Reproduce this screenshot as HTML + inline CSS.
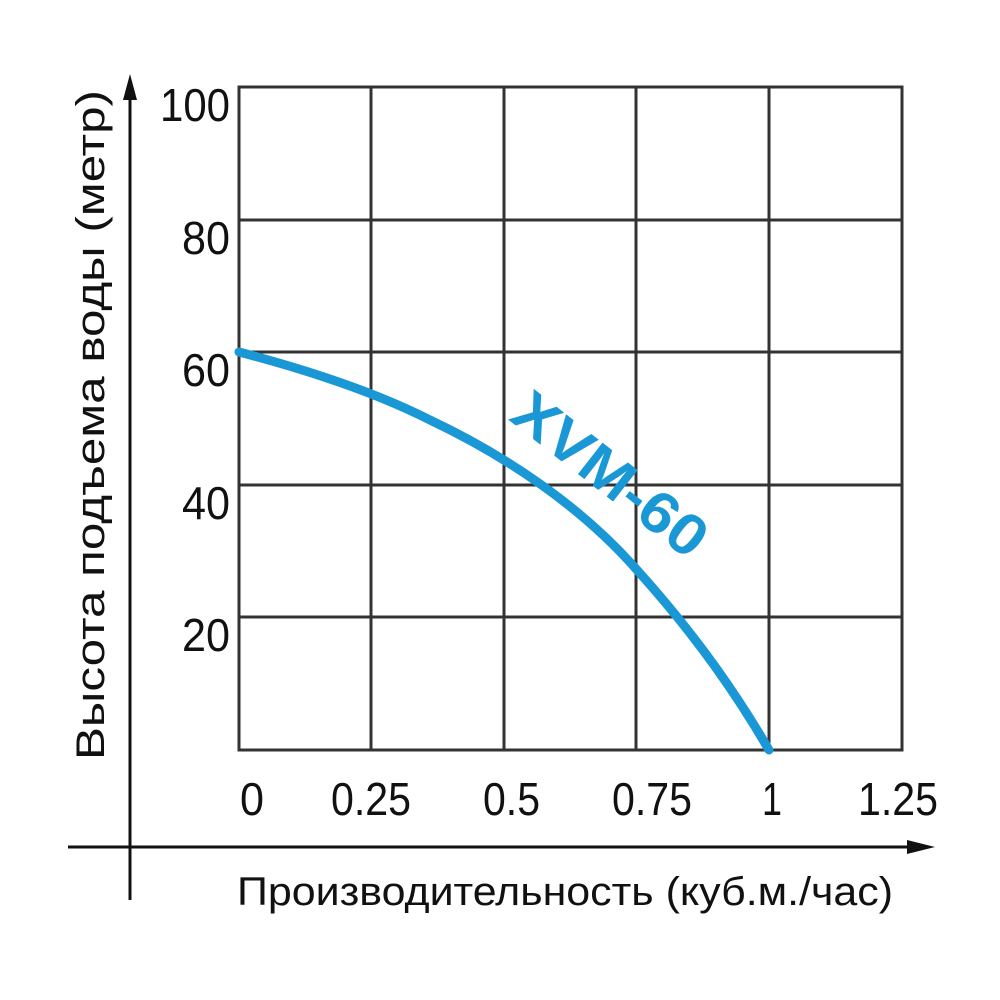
<!DOCTYPE html>
<html><head><meta charset="utf-8"><style>html,body{margin:0;padding:0;background:#fff}svg{display:block}</style></head>
<body>
<svg width="1000" height="1000" viewBox="0 0 1000 1000" xmlns="http://www.w3.org/2000/svg">
<g stroke="#333" stroke-width="3" fill="none">
<rect x="239" y="87" width="663" height="663"/>
<line x1="371" y1="87" x2="371" y2="750"/><line x1="504" y1="87" x2="504" y2="750"/>
<line x1="636" y1="87" x2="636" y2="750"/><line x1="769" y1="87" x2="769" y2="750"/>
<line x1="239" y1="220" x2="902" y2="220"/><line x1="239" y1="352" x2="902" y2="352"/>
<line x1="239" y1="485" x2="902" y2="485"/><line x1="239" y1="617" x2="902" y2="617"/>
</g>
<g stroke="#111" stroke-width="3"><line x1="130" y1="95" x2="130" y2="900"/><line x1="68" y1="847" x2="915" y2="847"/></g>
<polygon points="130,74 123,100 137,100" fill="#111"/>
<polygon points="935,847 907,840 907,854" fill="#111"/>
<path d="M239,352 C300,368 371,390 430,420 C504,455 580,505 637,570 C700,640 740,700 769,750" stroke="#1a98d5" stroke-width="9" fill="none" stroke-linecap="round"/>
<text x="610" y="494" transform="rotate(38 610 475)" text-anchor="middle" font-family="Liberation Sans, sans-serif" font-weight="bold" font-size="58" textLength="230" lengthAdjust="spacingAndGlyphs" fill="#1a98d5">XVM-60</text>
<g font-family="Liberation Sans, sans-serif" font-size="46" fill="#111">
<text x="160" y="121" textLength="70" lengthAdjust="spacingAndGlyphs">100</text>
<text x="182" y="254" textLength="48" lengthAdjust="spacingAndGlyphs">80</text>
<text x="182" y="386" textLength="48" lengthAdjust="spacingAndGlyphs">60</text>
<text x="182" y="519" textLength="48" lengthAdjust="spacingAndGlyphs">40</text>
<text x="182" y="651" textLength="48" lengthAdjust="spacingAndGlyphs">20</text>
<text x="240" y="815" textLength="24" lengthAdjust="spacingAndGlyphs">0</text>
<text x="331" y="815" textLength="80" lengthAdjust="spacingAndGlyphs">0.25</text>
<text x="483" y="815" textLength="57" lengthAdjust="spacingAndGlyphs">0.5</text>
<text x="612" y="815" textLength="80" lengthAdjust="spacingAndGlyphs">0.75</text>
<text x="762" y="815" textLength="20" lengthAdjust="spacingAndGlyphs">1</text>
<text x="858" y="815" textLength="80" lengthAdjust="spacingAndGlyphs">1.25</text>
<text x="237" y="905" font-size="40" textLength="656" lengthAdjust="spacingAndGlyphs">Производительность (куб.м./час)</text>
<text transform="translate(104 760) rotate(-90)" font-size="40" textLength="670" lengthAdjust="spacingAndGlyphs">Высота подъема воды (метр)</text>
</g>
</svg>
</body></html>
